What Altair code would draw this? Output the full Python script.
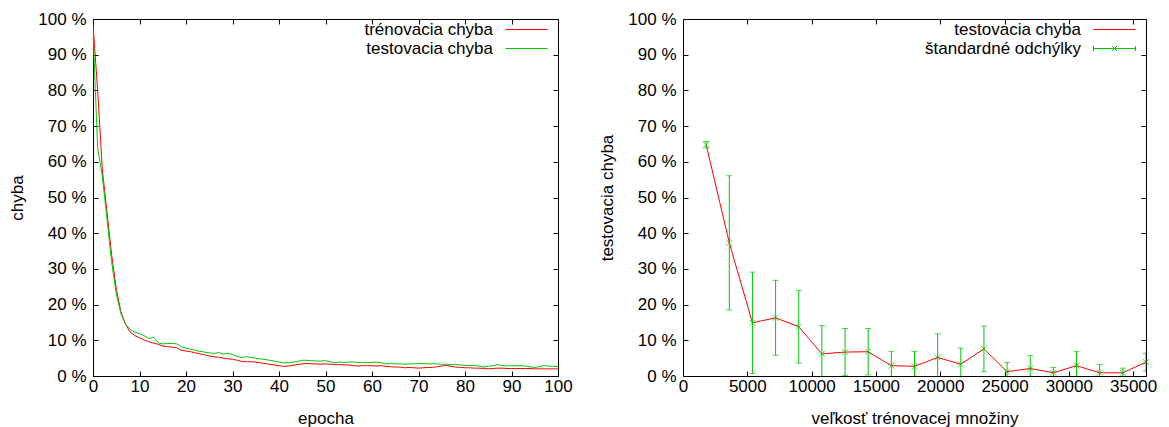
import altair as alt
import pandas as pd

# ---------------- left chart data ----------------
epochs = list(range(101))
train_err = [98.5, 80, 58, 46, 34, 24.5, 18, 14.5, 12.3, 11.3,
             10.7, 10.1, 9.6, 9.2, 8.9, 8.4, 8.2, 8.1, 7.9, 7.2,
             7.0, 6.8, 6.5, 6.2, 5.9, 5.6, 5.4, 5.3, 5.0, 4.8,
             4.7, 4.4, 4.1, 4.0, 4.0, 3.9, 3.7, 3.5, 3.3, 3.1,
             2.9, 2.7, 2.8, 3.0, 3.2, 3.4, 3.5, 3.4, 3.4, 3.3,
             3.4, 3.3, 3.2, 3.2, 3.1, 3.1, 2.9, 2.8, 2.9, 2.9,
             2.9, 2.8, 2.9, 2.7, 2.6, 2.5, 2.5, 2.3, 2.4, 2.3,
             2.2, 2.3, 2.4, 2.4, 2.6, 2.8, 3.0, 2.7, 2.5, 2.4,
             2.3, 2.3, 2.2, 2.2, 2.1, 2.0, 2.1, 2.2, 2.2, 2.1,
             2.1, 2.1, 2.1, 2.1, 2.1, 2.0, 2.0, 2.0, 2.0, 2.0,
             2.0]
test_err = [96.5, 64, 56, 44, 32, 23, 17.5, 14.5, 13.0, 12.3,
            11.9, 11.3, 10.5, 10.9, 9.3, 9.0, 9.1, 9.1, 9.0, 8.2,
            7.8, 7.5, 7.2, 6.9, 6.7, 6.5, 6.3, 6.6, 6.1, 6.4,
            6.0, 5.5, 5.2, 5.4, 5.2, 5.0, 4.8, 4.6, 4.4, 4.2,
            3.9, 3.7, 3.7, 3.9, 4.1, 4.4, 4.4, 4.3, 4.2, 4.2,
            4.3, 4.0, 3.7, 3.9, 3.8, 3.9, 3.9, 3.8, 3.8, 3.7,
            3.8, 3.9, 3.7, 3.4, 3.5, 3.4, 3.4, 3.3, 3.4, 3.4,
            3.5, 3.5, 3.4, 3.4, 3.4, 3.3, 3.3, 3.2, 3.2, 3.1,
            3.0, 2.9, 2.9, 2.8, 2.5, 2.7, 2.9, 3.2, 2.9, 2.8,
            2.9, 2.9, 2.9, 2.8, 2.6, 2.3, 2.7, 2.9, 2.8, 2.7,
            2.6]
left_series = ["trénovacia chyba", "testovacia chyba"]
left_x_ticks = [0, 10, 20, 30, 40, 50, 60, 70, 80, 90, 100]
pct_ticks = [0, 10, 20, 30, 40, 50, 60, 70, 80, 90, 100]

# ---------------- right chart data ----------------
sizes = [1800, 3600, 5400, 7200, 9000, 10800, 12600, 14400, 16200, 18000,
         19800, 21600, 23400, 25200, 27000, 28800, 30600, 32400, 34200, 36000]
mean_err = [64.8, 37.3, 14.9, 16.3, 13.8, 6.2, 6.7, 6.8, 2.9, 2.7,
            5.2, 3.3, 7.6, 1.2, 2.1, 0.9, 2.9, 0.9, 0.9, 3.9]
std_err = [0.9, 18.8, 14.2, 10.5, 10.2, 7.9, 6.6, 6.5, 4.0, 4.2,
           6.6, 4.5, 6.4, 2.6, 3.6, 1.5, 4.0, 2.3, 1.3, 2.5]
right_series = ["testovacia chyba", "štandardné odchýlky"]
right_x_ticks = [0, 5000, 10000, 15000, 20000, 25000, 30000, 35000]

RED = "#ff0000"
GREEN = "#00c800"
FONT = "Liberation Sans"
FS = 17
INWARD = alt.ExprRef(expr="-5")
LBL_OFF = alt.ExprRef(expr="-42")
LINE_SYMBOL = "M-4.2,0H4.2"
ERR_SYMBOL = "M-4.2,0H4.2M-4.2,-0.5V0.5M4.2,-0.5V0.5M-0.5,-0.5L0.5,0.5M-0.5,0.5L0.5,-0.5"


def make_legend(x, y, symbol=None):
    kw = dict(title=None, orient="none", legendX=x, legendY=y,
              symbolSize=100, symbolStrokeWidth=1, symbolOpacity=1,
              labelAlign="right", labelOffset=LBL_OFF, labelFontSize=FS,
              labelFont=FONT, labelColor="black", padding=0, rowPadding=1,
              labelLimit=400)
    if symbol is not None:
        kw["symbolType"] = symbol
    return alt.Legend(**kw)


# ---------------- left chart ----------------
left_df = pd.DataFrame({
    "epocha": epochs * 2,
    "chyba": train_err + test_err,
    "krivka": [left_series[0]] * len(epochs) + [left_series[1]] * len(epochs),
})

xs_left = alt.Scale(domain=[0, 100], nice=False, zero=False)
ys = alt.Scale(domain=[0, 100], nice=False)

left_lines = alt.Chart(left_df).mark_line(strokeWidth=1, clip=True).encode(
    x=alt.X("epocha:Q", scale=xs_left,
            axis=alt.Axis(values=left_x_ticks, title="epocha", orient="bottom")),
    y=alt.Y("chyba:Q", scale=ys,
            axis=alt.Axis(values=pct_ticks, title="chyba", orient="left",
                          labelExpr="datum.value + ' %'")),
    color=alt.Color("krivka:N",
                    scale=alt.Scale(domain=left_series, range=[RED, GREEN]),
                    sort=left_series,
                    legend=make_legend(425, 2, LINE_SYMBOL)),
)

left_mirror = alt.Chart(left_df).mark_line(opacity=0).encode(
    x=alt.X("epocha:Q", scale=xs_left,
            axis=alt.Axis(values=left_x_ticks, title=None, orient="top", labels=False)),
    y=alt.Y("chyba:Q", scale=ys,
            axis=alt.Axis(values=pct_ticks, title=None, orient="right", labels=False)),
    detail="krivka:N",
)

left = alt.layer(left_lines, left_mirror).resolve_axis(
    x="independent", y="independent").properties(width=465, height=357)

# ---------------- right chart ----------------
right_df = pd.DataFrame({
    "size": sizes,
    "err": mean_err,
    "lo": [m - s for m, s in zip(mean_err, std_err)],
    "hi": [m + s for m, s in zip(mean_err, std_err)],
    "seria": [right_series[1]] * len(sizes),
})

xs_right = alt.Scale(domain=[0, 36000], nice=False, zero=False)

r_line = alt.Chart(right_df).mark_line(color=RED, strokeWidth=1, clip=True).encode(
    x=alt.X("size:Q", scale=xs_right,
            axis=alt.Axis(values=right_x_ticks, title="veľkosť trénovacej množiny",
                          orient="bottom", format="d")),
    y=alt.Y("err:Q", scale=ys,
            axis=alt.Axis(values=pct_ticks, title="testovacia chyba", orient="left",
                          labelExpr="datum.value + ' %'")),
)

r_rule = alt.Chart(right_df).mark_rule(color=GREEN, strokeWidth=1, clip=True).encode(
    x=alt.X("size:Q", scale=xs_right, axis=None),
    y=alt.Y("lo:Q", scale=ys, axis=None),
    y2="hi:Q",
)

r_cap_lo = alt.Chart(right_df).mark_tick(color=GREEN, orient="horizontal", size=6,
                                         thickness=1, clip=True).encode(
    x=alt.X("size:Q", scale=xs_right, axis=None),
    y=alt.Y("lo:Q", scale=ys, axis=None),
)
r_cap_hi = alt.Chart(right_df).mark_tick(color=GREEN, orient="horizontal", size=6,
                                         thickness=1, clip=True).encode(
    x=alt.X("size:Q", scale=xs_right, axis=None),
    y=alt.Y("hi:Q", scale=ys, axis=None),
)

r_marks = alt.Chart(right_df).mark_point(color=GREEN, shape="M-1,-1L1,1M-1,1L1,-1",
                                         size=36, strokeWidth=1, filled=False).encode(
    x=alt.X("size:Q", scale=xs_right, axis=None),
    y=alt.Y("err:Q", scale=ys, axis=None),
)

r_legend = alt.Chart(right_df).mark_point(opacity=0, filled=False).encode(
    x=alt.X("size:Q", scale=xs_right, axis=None),
    y=alt.Y("err:Q", scale=ys, axis=None),
    color=alt.Color("seria:N",
                    scale=alt.Scale(domain=right_series, range=[RED, GREEN]),
                    legend=make_legend(423, 2)),
    shape=alt.Shape("seria:N",
                    scale=alt.Scale(domain=right_series,
                                    range=[LINE_SYMBOL, ERR_SYMBOL]),
                    legend=make_legend(423, 2)),
)

r_mirror = alt.Chart(right_df).mark_line(opacity=0).encode(
    x=alt.X("size:Q", scale=xs_right,
            axis=alt.Axis(values=right_x_ticks, title=None, orient="top", labels=False)),
    y=alt.Y("err:Q", scale=ys,
            axis=alt.Axis(values=pct_ticks, title=None, orient="right", labels=False)),
)

right = alt.layer(r_line, r_rule, r_cap_lo, r_cap_hi, r_marks, r_legend, r_mirror).resolve_axis(
    x="independent", y="independent").properties(width=463, height=357)

chart = alt.hconcat(left, right, spacing=25).resolve_scale(
    color="independent", shape="independent"
).resolve_legend(
    color="independent", shape="independent"
).properties(
    padding={"left": 0, "top": 1, "right": 0, "bottom": 0}
).configure(font=FONT).configure_view(
    stroke="black", strokeWidth=1
).configure_axis(
    domain=False, grid=False, tickColor="black", tickSize=INWARD, tickWidth=1,
    labelFont=FONT, labelFontSize=FS, labelColor="black", labelPadding=4,
    labelFlush=False, labelOverlap=False,
    titleFont=FONT, titleFontSize=FS, titleFontWeight="normal", titleColor="black",
).configure_axisLeft(labelPadding=12, titlePadding=11).configure_axisBottom(
    labelPadding=7, titlePadding=16
)

chart.save("out.html", embed_options={"renderer": "svg", "actions": False})
